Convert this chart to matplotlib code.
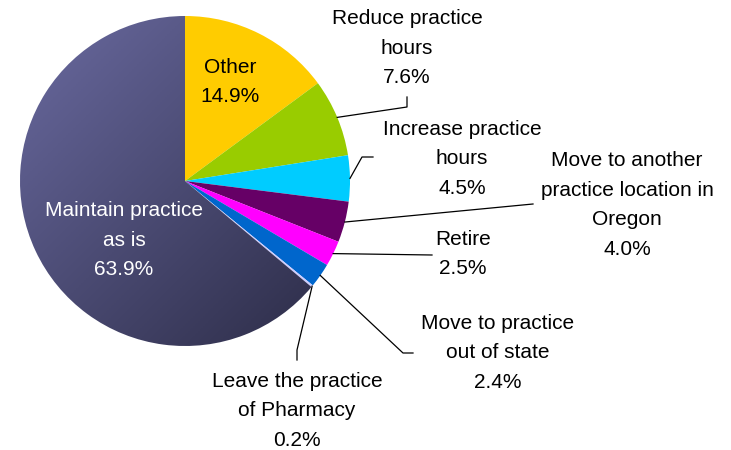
import numpy as np
import matplotlib.pyplot as plt
from matplotlib.colors import LinearSegmentedColormap

plt.rcParams['font.family'] = ['Liberation Sans', 'DejaVu Sans']

# data
labels = ["Other", "Reduce practice\nhours", "Increase practice\nhours",
          "Move to another\npractice location in\nOregon", "Retire",
          "Move to practice\nout of state", "Leave the practice\nof Pharmacy",
          "Maintain practice\nas is"]
values = [14.9, 7.6, 4.5, 4.0, 2.5, 2.4, 0.2, 63.9]
colors = ["#FFCC00", "#99CC00", "#00CCFF", "#660066", "#FF00FF",
          "#0066CC", "#CCCCFF", "#4A4A75"]

W, H = 731, 450
cx, cy, R = 185, 181, 165   # pie centre / radius in pixels (y down)

fig = plt.figure(figsize=(W / 100, H / 100), dpi=100)
ax = fig.add_axes([0, 0, 1, 1])

wedges, _ = ax.pie(values, colors=colors, startangle=90, counterclock=False,
                   center=(cx, H - cy), radius=R, frame=True,
                   wedgeprops=dict(linewidth=0))

# gradient fill for the big slice
grad = LinearSegmentedColormap.from_list("g", ["#6A6AA0", "#2A2A44"])
yy, xx = np.mgrid[0:1:200j, 0:1:200j]
img = ax.imshow((xx + yy) / 2, cmap=grad, origin="upper",
                extent=(cx - R, cx + R, H - cy - R, H - cy + R), zorder=1.5)
img.set_clip_path(wedges[-1])
wedges[-1].set_facecolor("none")

ax.set_xlim(0, W)
ax.set_ylim(0, H)
ax.set_aspect("equal")
ax.axis("off")

# label positions (pixel, y down) and leader elbows
text_pos = [(230, 82), (407, 48), (462, 159), (627, 205), (463, 254),
            (498, 353), (297, 411), (124, 240)]
elbows = [None,
          [(407, 107), (407, 97)],
          [(362, 157), (373, 157)],
          [(533, 204)],
          [(432, 255)],
          [(403, 353), (413, 353)],
          [(297, 350), (297, 360)],
          None]

for w, lab, v, (tx, ty), el in zip(wedges, labels, values, text_pos, elbows):
    col = "white" if lab.startswith("Maintain") else "black"
    ax.text(tx, H - ty, f"{lab}\n{v:.1f}%", ha="center", va="center",
            fontsize=15, color=col, linespacing=1.72, zorder=4)
    if el:
        ang = np.deg2rad((w.theta1 + w.theta2) / 2)
        x0 = cx + R * np.cos(ang)
        y0 = (H - cy) + R * np.sin(ang)
        xs = [x0] + [p[0] for p in el]
        ys = [y0] + [H - p[1] for p in el]
        ax.plot(xs, ys, color="black", lw=0.9, zorder=3)

fig.savefig("out.png", dpi=100)
